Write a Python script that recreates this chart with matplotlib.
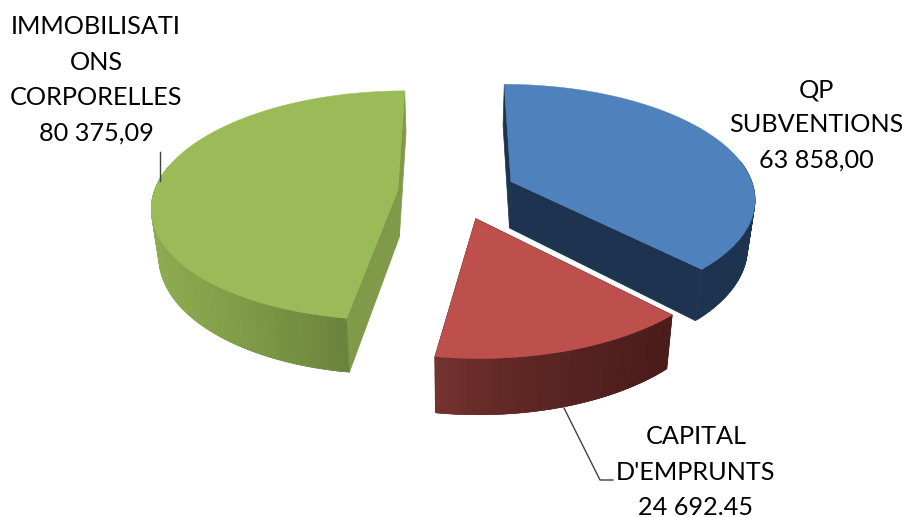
import numpy as np
import matplotlib
matplotlib.use("Agg")
import matplotlib.pyplot as plt
from matplotlib.colors import to_rgb

names = ["QP\nSUBVENTIONS", "CAPITAL\nD'EMPRUNTS", "IMMOBILISATI\nONS\nCORPORELLES"]
values = [63858.00, 24692.45, 80375.09]
value_labels = ["63 858,00", "24 692.45", "80 375,09"]

top_colors = ["#4f81bd", "#bd4f4c", "#9bbb59"]
cut_colors = ["#1d334f", "#4a1c1a", "#7f9a48"]
wall_left = ["#1d334f", "#7a3532", "#8dab50"]
wall_right = ["#1d334f", "#4a1c1a", "#5f7535"]
wall_gamma = [1, 0.6, 1.2]
explode = [0.25, 0.24, 0.235]
nudge_u = [0, 0.01, 0]
draw_order = [2, 0, 1]

# fake 3d: disc coords go through a small perspective
cx, cy = 455, 192
rx, ry = 244, 113
persp = 0.135
depth = 47
shrink = 0.975


def project(u, v, lower=False):
    s = 1 / (1 + persp * v)
    x = rx * u * s
    y = -ry * v * s
    if lower:
        return cx + x * shrink, cy + y + depth * s
    return cx + x, cy + y


def mix(c1, c2, t):
    c1, c2 = np.array(to_rgb(c1)), np.array(to_rgb(c2))
    return tuple(c1 + (c2 - c1) * t)


fig = plt.figure(figsize=(9.02, 5.17), dpi=100)
ax = fig.add_axes([0, 0, 1, 1])
ax.set_xlim(0, 902)
ax.set_ylim(517, 0)
ax.axis("off")

fractions = np.array(values) / sum(values)
ends = np.cumsum(fractions) * 2 * np.pi
starts = ends - fractions * 2 * np.pi

for i in draw_order:
    mid = (starts[i] + ends[i]) / 2
    ou = explode[i] * np.sin(mid) + nudge_u[i]
    ov = explode[i] * np.cos(mid)
    th = np.linspace(starts[i], ends[i], 160)
    u = ou + np.sin(th)
    v = ov + np.cos(th)

    top_x, top_y = project(u, v)
    low_x, low_y = project(u, v, lower=True)
    ax_x, ax_y = project(ou, ov)
    alx, aly = project(ou, ov, lower=True)

    # two cut faces
    ax.fill([ax_x, top_x[0], low_x[0], alx], [ax_y, top_y[0], low_y[0], aly],
            color=cut_colors[i], lw=0.5)
    ax.fill([ax_x, top_x[-1], low_x[-1], alx], [ax_y, top_y[-1], low_y[-1], aly],
            color=cut_colors[i], lw=0.5)

    # outer wall, shaded left to right, back part is hidden anyway
    front = np.cos(th) <= 0.2
    x_min, x_max = top_x.min(), top_x.max()
    for j in range(len(th) - 2):
        if not front[j]:
            continue
        t = ((top_x[j] - x_min) / (x_max - x_min)) ** wall_gamma[i]
        col = mix(wall_left[i], wall_right[i], t)
        ax.fill([top_x[j], top_x[j + 2], low_x[j + 2], low_x[j]],
                [top_y[j], top_y[j + 2], low_y[j + 2], low_y[j]],
                facecolor=col, edgecolor=col, lw=0.3)

    ax.fill(np.r_[ax_x, top_x], np.r_[ax_y, top_y], color=top_colors[i], lw=0.3)

# leader lines
ax.plot([160, 160], [152, 181], color="#404040", lw=1)
ax.plot([564, 600, 613], [408, 480, 480], color="#404040", lw=1)

font = dict(family="Lato", fontsize=18.2, color="#000000", ha="center", va="center", linespacing=1.65)
ax.text(816, 125, names[0] + "\n" + value_labels[0], **font)
ax.text(696, 472, names[1] + "\n" + value_labels[1], **font)
ax.text(96, 80, names[2] + "\n" + value_labels[2], **font)

fig.savefig("out.png", dpi=100)
